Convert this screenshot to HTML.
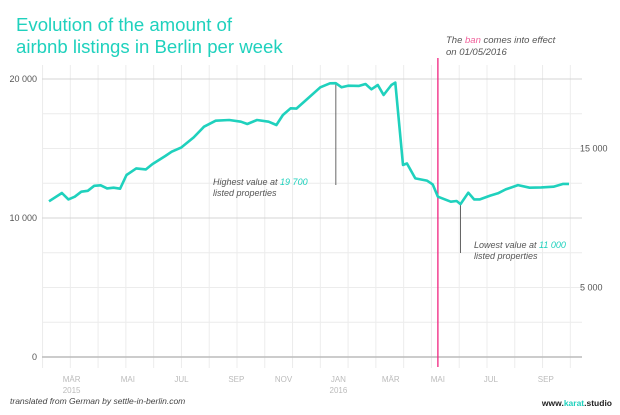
<!DOCTYPE html>
<html><head><meta charset="utf-8"><style>
body{margin:0;background:#fff;}
svg{display:block;font-family:"Liberation Sans",sans-serif;}
</style></head><body>
<svg width="620" height="415" viewBox="0 0 620 415">
<text x="16" y="31" font-size="18.6" fill="#1fd1bd">Evolution of the amount of</text>
<text x="16" y="53" font-size="18.6" fill="#1fd1bd">airbnb listings in Berlin per week</text>
<g id="grid"></g>
<g id="axes"></g>
<g id="ann"></g>
<path id="line" fill="none" stroke="#1fd1bd" stroke-width="2.6" stroke-linejoin="round"/>
<text x="446" y="43" font-size="9.5" font-style="italic" fill="#555">The <tspan fill="#f0609a">ban</tspan> comes into effect</text>
<text x="446" y="55" font-size="9.5" font-style="italic" fill="#555">on 01/05/2016</text>
<text x="213" y="185" font-size="9" font-style="italic" fill="#555">Highest value at <tspan fill="#1fd1bd">19 700</tspan></text>
<text x="213" y="196" font-size="9" font-style="italic" fill="#555">listed properties</text>
<text x="474" y="248" font-size="9" font-style="italic" fill="#555">Lowest value at <tspan fill="#1fd1bd">11 000</tspan></text>
<text x="474" y="259" font-size="9" font-style="italic" fill="#555">listed properties</text>
<text x="10" y="404" font-size="8.5" font-style="italic" fill="#444">translated from German by settle-in-berlin.com</text>
<text x="612" y="406" font-size="8.5" font-weight="bold" fill="#222" text-anchor="end">www.<tspan fill="#1fd1bd">karat</tspan>.studio</text>
</svg>
<script>
const weeks=[0,2,3,4,5,6,7,8,9,10,11,12,13.5,15,16,18,19,20.5,22.4,24,25.8,27.9,29.7,30.7,32.2,34,35.2,36.2,37.4,38.3,39.8,42,43.5,44.4,45.3,46.3,48,49,49.9,50.9,51.8,53,53.6,54.8,55.4,56.7,58.5,59.4,60.2,62.2,63.1,63.7,64.9,65.8,66.7,68.3,69.5,70.7,72.6,74.4,76.2,78.1,79.6,80.5];
const listings=[11200,11800,11340,11530,11890,11960,12320,12350,12130,12180,12110,13090,13570,13500,13880,14460,14770,15080,15800,16570,17000,17050,16930,16760,17050,16930,16690,17410,17890,17870,18490,19400,19690,19700,19400,19520,19500,19640,19260,19570,18850,19570,19740,13810,13930,12850,12690,12420,11530,11170,11220,11000,11820,11340,11340,11610,11780,12060,12370,12180,12200,12250,12450,12450];
const leftTicks=[0,10000,20000];
const leftTickLabels=["0","10 000","20 000"];
const rightTicks=[5000,15000];
const rightTickLabels=["5 000","15 000"];
const monthLabels=["MÄR","MAI","JUL","SEP","NOV","JAN","MÄR","MAI","JUL","SEP"];
const monthWeeks=[3.5,12.2,20.5,29,36.3,44.8,52.9,60.2,68.4,76.9];
const yearLabels=["2015","2016"];
const yearWeeks=[3.5,44.8];
const banWeek=60.2, peakWeek=44.4, lowWeek=63.7;
const NS="http://www.w3.org/2000/svg";
const X=w=>49+w*6.46;
const Y=v=>357-v*0.0139;
function mk(tag,attrs,parent,txt){const e=document.createElementNS(NS,tag);for(const k in attrs)e.setAttribute(k,attrs[k]);if(txt!==undefined)e.textContent=txt;document.getElementById(parent).appendChild(e);return e;}
for(let w=-1;w<=82;w+=4.3){
 const e=mk('line',{x1:X(w),x2:X(w),y1:65,y2:368,stroke:'#ececec','stroke-width':1},'grid');
 
 
}
for(let v=0;v<=20000;v+=2500){
 const major=v%10000===0;
 const e=mk('line',{x1:42,x2:582,y1:Y(v),y2:Y(v),stroke:v===0?'#bbb':(major?'#d4d4d4':'#ececec'),'stroke-width':v===0?1.5:1},'grid');
 
 
}
leftTicks.forEach((v,i)=>{
 const e=mk('text',{x:37,y:Y(v)+3,'font-size':9,fill:'#555','text-anchor':'end'},'axes',leftTickLabels[i]);
 
 
});
rightTicks.forEach((v,i)=>{
 const e=mk('text',{x:580,y:Y(v)+3,'font-size':9,fill:'#555'},'axes',rightTickLabels[i]);
 
 
});
monthLabels.forEach((m,i)=>{
 const e=mk('text',{x:X(monthWeeks[i]),y:382,'font-size':8,fill:'#bbb','text-anchor':'middle'},'axes',m);
 
 
});
yearLabels.forEach((m,i)=>{
 const e=mk('text',{x:X(yearWeeks[i]),y:393,'font-size':8,fill:'#bbb','text-anchor':'middle'},'axes',m);
 
 
});
const ban=mk('line',{x1:X(banWeek),x2:X(banWeek),y1:58,y2:367,stroke:'#f0247f','stroke-width':1.3},'ann');


const pk=mk('line',{x1:X(peakWeek),x2:X(peakWeek),y1:Y(19700),y2:185,stroke:'#666','stroke-width':1},'ann');


const lw=mk('line',{x1:X(lowWeek),x2:X(lowWeek),y1:Y(11000),y2:253,stroke:'#666','stroke-width':1},'ann');


document.getElementById('line').setAttribute('d',weeks.map((w,i)=>(i?'L':'M')+X(w).toFixed(1)+','+Y(listings[i]).toFixed(1)).join(''));
</script>
</body></html>
